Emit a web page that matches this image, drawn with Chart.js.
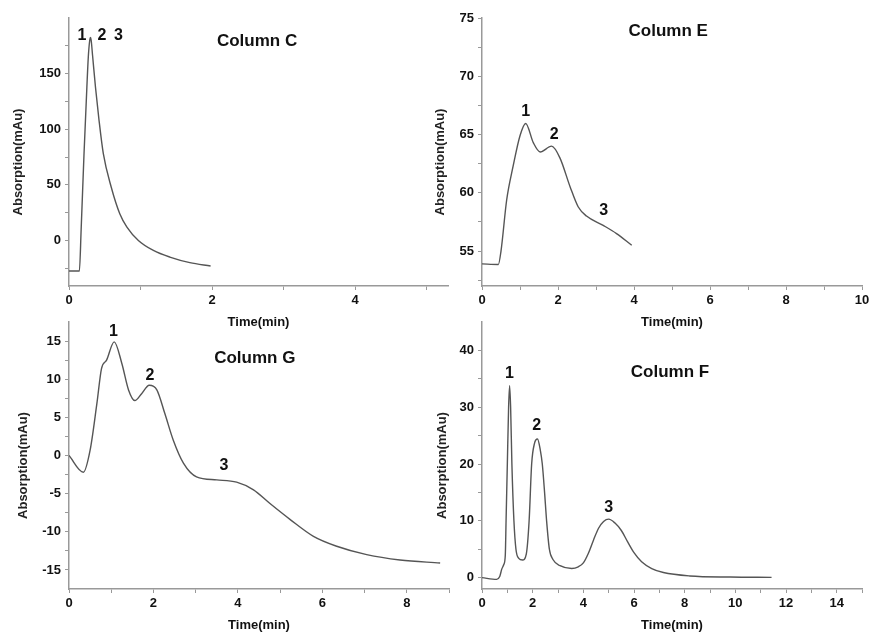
<!DOCTYPE html>
<html>
<head>
<meta charset="utf-8">
<title>Chromatograms</title>
<script src="https://cdn.jsdelivr.net/npm/chart.js@4.4.1/dist/chart.umd.min.js"></script>
<style>
  body { margin: 0; background: #fff; }
  #wrap { position: relative; width: 874px; height: 636px; overflow: hidden; }
  canvas { position: absolute; }
</style>
</head>
<body>
<div id="wrap">
  <canvas id="chartC" width="460" height="330" style="left:0;top:0"></canvas>
  <canvas id="chartE" width="444" height="330" style="left:430px;top:0"></canvas>
  <canvas id="chartG" width="460" height="331" style="left:0;top:305px"></canvas>
  <canvas id="chartF" width="444" height="331" style="left:430px;top:305px"></canvas>
</div>
<script>
// Column C
const cTime = [0, 0.145, 0.17, 0.21, 0.25, 0.27, 0.29, 0.30, 0.31, 0.33, 0.37, 0.42, 0.48, 0.59, 0.71, 0.81, 0.97, 1.18, 1.41, 1.69, 1.98];
const cAbs  = [-27.5, -27.5, 10, 78, 138, 165, 180, 182.5, 180, 166, 138, 108, 78, 48, 24, 12, 0, -9, -15, -20, -23];
const cPeakX = [0.18, 0.46, 0.69];
const cPeakY = [184, 184, 184];

// Column E
const eTime = [0, 0.43, 0.5, 0.65, 0.82, 1.0, 1.15, 1.35, 1.53, 1.83, 2.05, 2.32, 2.53, 2.75, 3.19, 3.54, 3.94];
const eAbs  = [53.9, 53.85, 55, 59.4, 62.3, 64.9, 65.95, 64.3, 63.5, 64.0, 63.0, 60.5, 58.8, 58.0, 57.2, 56.5, 55.5];
const ePeakX = [1.15, 1.9, 3.2];
const ePeakY = [67, 65, 58.5];

// Column G
const gTime = [0, 0.34, 0.5, 0.66, 0.77, 0.89, 1.07, 1.25, 1.41, 1.56, 1.72, 1.9, 2.08, 2.27, 2.47, 2.71, 3.02, 3.5, 3.97, 4.37, 4.76, 5.24, 5.79, 6.34, 7.05, 7.84, 8.79];
const gAbs  = [0, -2.2, 0.7, 6.8, 11.4, 12.5, 14.9, 12.1, 8.6, 7.2, 8.1, 9.2, 8.6, 5.5, 2.0, -1.0, -2.8, -3.2, -3.5, -4.5, -6.3, -8.4, -10.6, -11.9, -13.0, -13.7, -14.1];
const gPeakX = [1.05, 1.92, 3.67];
const gPeakY = [16.3, 10.5, -1.3];

// Column F
const fTime = [0, 0.58, 0.7, 0.78, 0.86, 0.92, 0.95, 1.0, 1.05, 1.09, 1.13, 1.18, 1.26, 1.34, 1.45, 1.6, 1.75, 1.86, 1.96, 2.07, 2.19, 2.3, 2.38, 2.47, 2.55, 2.66, 2.8, 3.08, 3.54, 3.8, 4.0, 4.2, 4.4, 4.6, 4.8, 5.0, 5.25, 5.5, 5.75, 6.0, 6.3, 6.7, 7.16, 8.2, 9.8, 11.43];
const fAbs  = [0, -0.3, 0.2, 1.5, 2.3, 4, 10, 20, 30, 33.8, 30, 20, 10, 5, 3.4, 3.1, 4.2, 10, 20, 23.6, 24.4, 22.5, 20, 15, 10, 5, 3.2, 2.1, 1.6, 1.9, 2.6, 4.3, 6.6, 8.7, 9.9, 10.3, 9.6, 8.3, 6.3, 4.4, 2.8, 1.6, 0.9, 0.3, 0.1, 0.05];
const fPeakX = [1.08, 2.16, 5.0];
const fPeakY = [36, 26.7, 12.3];

const peakNames = ['1', '2', '3'];

// axis ticks (major = labelled, minor = tick only)
const cXMajor = [0, 2, 4], cXMinor = [1, 3, 5];
const cYMajor = [0, 50, 100, 150], cYMinor = [-25, 25, 75, 125, 175];
const eXMajor = [0, 2, 4, 6, 8, 10], eXMinor = [1, 3, 5, 7, 9];
const eYMajor = [55, 60, 65, 70, 75], eYMinor = [52.5, 57.5, 62.5, 67.5, 72.5];
const gXMajor = [0, 2, 4, 6, 8], gXMinor = [1, 3, 5, 7, 9];
const gYMajor = [-15, -10, -5, 0, 5, 10, 15], gYMinor = [-12.5, -7.5, -2.5, 2.5, 7.5, 12.5];
const fXMajor = [0, 2, 4, 6, 8, 10, 12, 14], fXMinor = [1, 3, 5, 7, 9, 11, 13, 15];
const fYMajor = [0, 10, 20, 30, 40], fYMinor = [5, 15, 25, 35];

const FONT = '"Liberation Sans", Arial, sans-serif';

// peak numbers, panel title and y axis title (drawn a bit below centre, like the original)
const peakLabels = {
  id: 'peakLabels',
  afterDatasetsDraw(chart, args, opts) {
    const ctx = chart.ctx;
    const x = chart.scales.x, y = chart.scales.y;
    const area = chart.chartArea;
    ctx.save();
    ctx.fillStyle = '#111';
    ctx.textAlign = 'center';
    ctx.textBaseline = 'middle';
    ctx.font = 'bold 16px ' + FONT;
    opts.xs.forEach((v, i) => {
      ctx.fillText(peakNames[i], x.getPixelForValue(v), y.getPixelForValue(opts.ys[i]));
    });
    ctx.font = 'bold 17px ' + FONT;
    ctx.fillText(opts.title, x.getPixelForValue(opts.titleAt[0]), y.getPixelForValue(opts.titleAt[1]));

    ctx.fillStyle = '#222';
    ctx.font = 'bold 13px ' + FONT;
    ctx.translate(area.left - opts.yTitleGap, (area.top + area.bottom) / 2 + 10);
    ctx.rotate(-Math.PI / 2);
    ctx.fillText('Absorption(mAu)', 0, 0);
    ctx.restore();
  }
};

function makePanel(id, p) {
  const pts = p.time.map((t, i) => ({ x: t, y: p.abs[i] }));
  const tickList = (major, minor) => major.concat(minor).sort((a, b) => a - b).map(v => ({ value: v }));
  new Chart(document.getElementById(id), {
    type: 'line',
    data: {
      datasets: [{
        data: pts,
        borderColor: '#555',
        borderWidth: 1.4,
        pointRadius: 0,
        fill: false,
        cubicInterpolationMode: 'monotone'
      }]
    },
    options: {
      responsive: false,
      animation: false,
      devicePixelRatio: 1,
      layout: { padding: { top: p.padTop, right: p.padRight, left: 0, bottom: 0 } },
      scales: {
        x: {
          type: 'linear',
          min: p.xMin, max: p.xMax,
          afterBuildTicks: s => { s.ticks = tickList(p.xMajor, p.xMinor); },
          afterFit: s => { s.height = p.xHeight; },
          ticks: {
            autoSkip: false, maxRotation: 0, padding: 3,
            color: '#111',
            font: { family: FONT, size: 13, weight: 'bold' },
            callback: v => p.xMajor.includes(v) ? String(v) : ''
          },
          grid: { drawOnChartArea: false, tickLength: 4, color: '#999' },
          border: { color: '#999', width: 1.5 },
          title: {
            display: true, text: 'Time(min)', color: '#111',
            font: { family: FONT, size: 13, weight: 'bold' },
            padding: { top: 0, bottom: p.xTitlePad }
          }
        },
        y: {
          type: 'linear',
          min: p.yMin, max: p.yMax,
          afterBuildTicks: s => { s.ticks = tickList(p.yMajor, p.yMinor); },
          afterFit: s => { s.width = p.yWidth; },
          ticks: {
            autoSkip: false, padding: 4,
            color: '#111',
            font: { family: FONT, size: 13, weight: 'bold' },
            callback: v => p.yMajor.includes(v) ? String(v) : ''
          },
          grid: { drawOnChartArea: false, tickLength: 4, color: '#999' },
          border: { color: '#999', width: 1.5 }
        }
      },
      plugins: {
        legend: { display: false },
        tooltip: { enabled: false },
        peakLabels: { xs: p.peakX, ys: p.peakY, title: p.title, titleAt: p.titleAt, yTitleGap: p.yTitleGap }
      }
    },
    plugins: [peakLabels]
  });
}

makePanel('chartC', {
  time: cTime, abs: cAbs, peakX: cPeakX, peakY: cPeakY,
  title: 'Column C', titleAt: [2.63, 178.6],
  xMin: 0, xMax: 5.3, yMin: -41, yMax: 200,
  xMajor: cXMajor, xMinor: cXMinor, yMajor: cYMajor, yMinor: cYMinor,
  padTop: 18, padRight: 12, yWidth: 69, xHeight: 44, yTitleGap: 51, xTitlePad: 0
});

makePanel('chartE', {
  time: eTime, abs: eAbs, peakX: ePeakX, peakY: ePeakY,
  title: 'Column E', titleAt: [4.9, 73.85],
  xMin: 0, xMax: 10, yMin: 52, yMax: 75,
  xMajor: eXMajor, xMinor: eXMinor, yMajor: eYMajor, yMinor: eYMinor,
  padTop: 18, padRight: 12, yWidth: 52, xHeight: 44, yTitleGap: 42, xTitlePad: 0
});

makePanel('chartG', {
  time: gTime, abs: gAbs, peakX: gPeakX, peakY: gPeakY,
  title: 'Column G', titleAt: [4.4, 12.8],
  xMin: 0, xMax: 9, yMin: -17.5, yMax: 17.5,
  xMajor: gXMajor, xMinor: gXMinor, yMajor: gYMajor, yMinor: gYMinor,
  padTop: 17, padRight: 11, yWidth: 69, xHeight: 47, yTitleGap: 46, xTitlePad: 3
});

makePanel('chartF', {
  time: fTime, abs: fAbs, peakX: fPeakX, peakY: fPeakY,
  title: 'Column F', titleAt: [7.42, 36.1],
  xMin: 0, xMax: 15, yMin: -2, yMax: 45,
  xMajor: fXMajor, xMinor: fXMinor, yMajor: fYMajor, yMinor: fYMinor,
  padTop: 17, padRight: 12, yWidth: 52, xHeight: 47, yTitleGap: 40, xTitlePad: 3
});
</script>
</body>
</html>
